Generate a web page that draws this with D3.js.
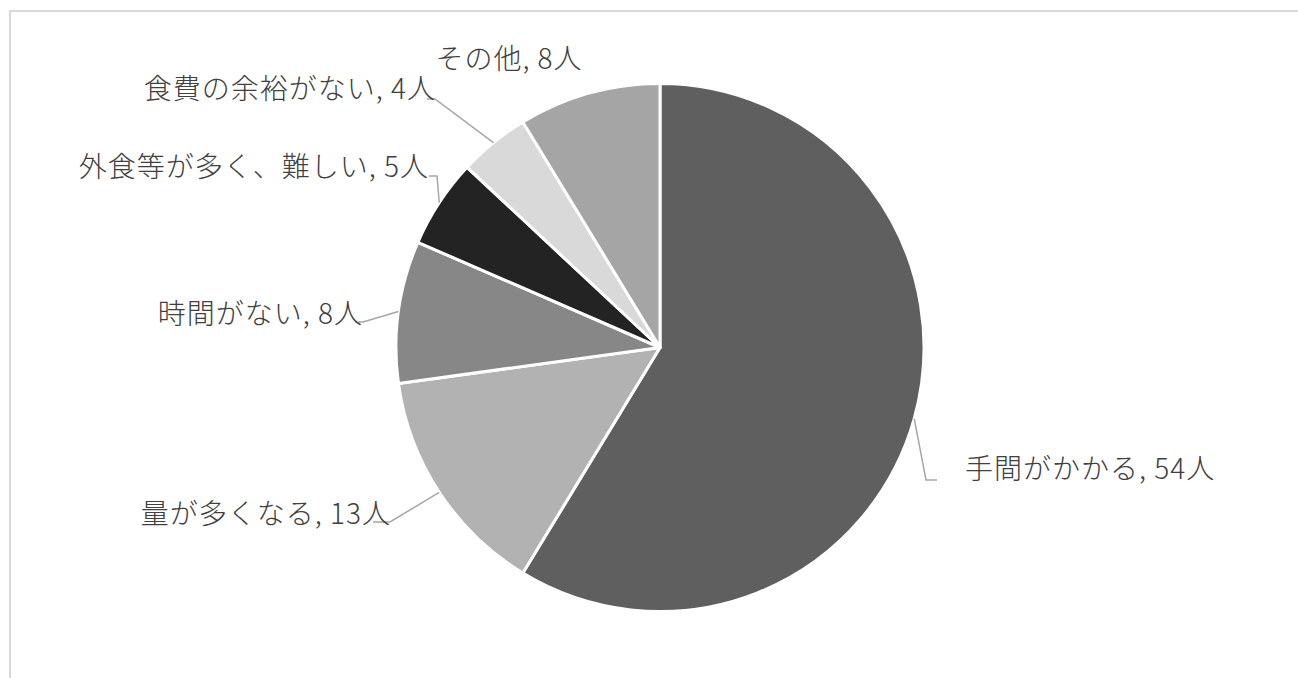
<!DOCTYPE html>
<html lang="ja">
<head>
<meta charset="utf-8">
<script src="https://cdn.jsdelivr.net/npm/d3@7/dist/d3.min.js"></script>
<style>
  html, body { margin: 0; padding: 0; background: #fff; }
  svg { display: block; }
  .label { font-family: "Noto Sans CJK JP", "Noto Sans", sans-serif; font-size: 28px; font-weight: 300; fill: #404040; letter-spacing: 1px; }
</style>
</head>
<body>
<svg id="chart" width="1298" height="678"></svg>
<script>
// Reasons given (count of respondents), clockwise from 12 o'clock
const categories = ["手間がかかる", "量が多くなる", "時間がない", "外食等が多く、難しい", "食費の余裕がない", "その他"];
const counts = [54, 13, 8, 5, 4, 8];
const unit = "人";
const sliceColors = ["#5f5f5f", "#b2b2b2", "#878787", "#232323", "#d9d9d9", "#a5a5a5"];

// Label placement: anchor point of each text and the leader-line elbow (null = no leader)
const labelLayout = [
  { x: 965, y: 479, anchor: "start",  elbow: [[926, 480], [937, 480]] },
  { x: 391, y: 524, anchor: "end",    elbow: [[390, 522], [373, 522]] },
  { x: 363, y: 324, anchor: "end",    elbow: [[363, 322], [358, 322]] },
  { x: 429, y: 177, anchor: "end",    elbow: [[437, 176], [429, 176]] },
  { x: 436, y: 99,  anchor: "end",    elbow: [[435, 99], [427, 99]] },
  { x: 509, y: 69,  anchor: "middle", elbow: null }
];

const svg = d3.select("#chart");
const cx = 660, cy = 347.5, radius = 264;

// Chart area frame
svg.append("rect")
  .attr("x", 10).attr("y", 11)
  .attr("width", 1400).attr("height", 1000)
  .attr("fill", "none").attr("stroke", "#d9d9d9").attr("stroke-width", 2);

const data = categories.map((c, i) => ({ name: c, value: counts[i], color: sliceColors[i], layout: labelLayout[i] }));

const pie = d3.pie().sort(null).value(d => d.value).startAngle(0).endAngle(2 * Math.PI);
const arc = d3.arc().innerRadius(0).outerRadius(radius);
const arcs = pie(data);

const g = svg.append("g").attr("transform", `translate(${cx},${cy})`);

g.selectAll("path.slice")
  .data(arcs)
  .join("path")
  .attr("class", "slice")
  .attr("d", arc)
  .attr("fill", d => d.data.color)
  .attr("stroke", "#ffffff")
  .attr("stroke-width", 3)
  .attr("stroke-linejoin", "round");

// Leader lines from the slice edge at mid-angle to the label
const line = d3.line();
svg.selectAll("path.leader")
  .data(arcs.filter(d => d.data.layout.elbow))
  .join("path")
  .attr("class", "leader")
  .attr("d", d => {
    const mid = (d.startAngle + d.endAngle) / 2;
    const edge = [cx + radius * Math.sin(mid), cy - radius * Math.cos(mid)];
    return line([edge, ...d.data.layout.elbow]);
  })
  .attr("fill", "none")
  .attr("stroke", "#a6a6a6")
  .attr("stroke-width", 1.5);

svg.selectAll("text.label")
  .data(arcs)
  .join("text")
  .attr("class", "label")
  .attr("x", d => d.data.layout.x)
  .attr("y", d => d.data.layout.y)
  .attr("text-anchor", d => d.data.layout.anchor)
  .text(d => `${d.data.name}, ${d.data.value}${unit}`);
</script>
</body>
</html>
